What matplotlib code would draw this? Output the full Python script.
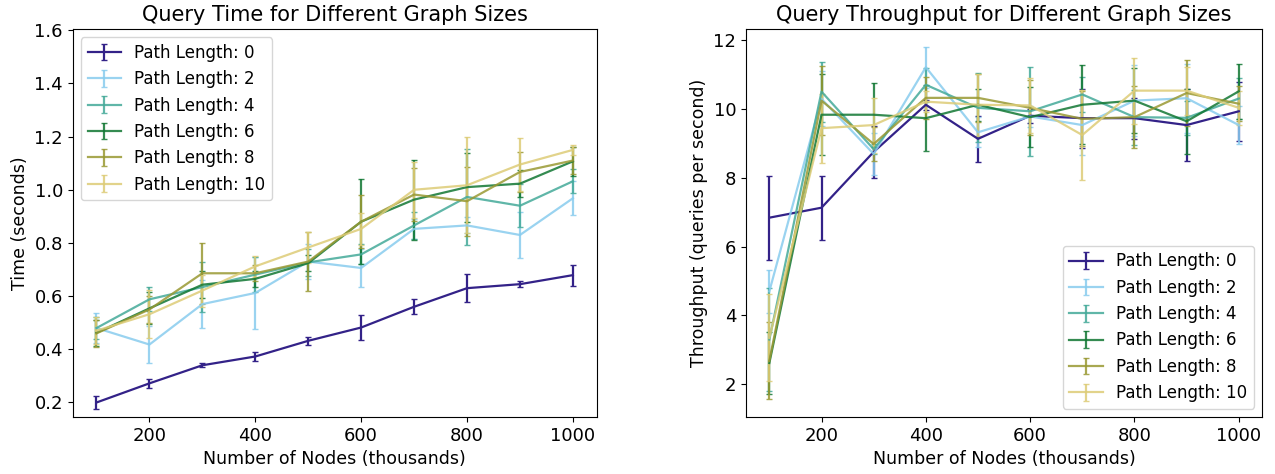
import numpy as np
import matplotlib
matplotlib.use("Agg")
from matplotlib import pyplot as plt

# Graph sizes (thousands of nodes)
nodes = [100, 200, 300, 400, 500, 600, 700, 800, 900, 1000]
path_lengths = [0, 2, 4, 6, 8, 10]
colors = ["#332288", "#88CCEE", "#44AA99", "#117733", "#999933", "#DDCC77"]

# Query time (seconds), mean and error per path length
time_0 = [0.200, 0.272, 0.340, 0.373, 0.432, 0.482, 0.560, 0.630, 0.645, 0.679]
time_2 = [0.480, 0.418, 0.570, 0.612, 0.730, 0.706, 0.853, 0.866, 0.830, 0.968]
time_4 = [0.480, 0.588, 0.634, 0.681, 0.727, 0.757, 0.866, 0.973, 0.940, 1.032]
time_6 = [0.462, 0.554, 0.643, 0.665, 0.724, 0.880, 0.963, 1.010, 1.023, 1.107]
time_8 = [0.460, 0.550, 0.686, 0.686, 0.730, 0.880, 0.982, 0.957, 1.067, 1.110]
time_10 = [0.470, 0.532, 0.621, 0.712, 0.783, 0.853, 1.000, 1.017, 1.095, 1.150]

time_err_0 = [0.025, 0.016, 0.008, 0.017, 0.014, 0.048, 0.029, 0.053, 0.012, 0.039]
time_err_2 = [0.055, 0.070, 0.090, 0.135, 0.065, 0.070, 0.038, 0.030, 0.085, 0.064]
time_err_4 = [0.040, 0.045, 0.095, 0.065, 0.050, 0.038, 0.050, 0.180, 0.080, 0.045]
time_err_6 = [0.050, 0.060, 0.050, 0.030, 0.030, 0.160, 0.150, 0.130, 0.050, 0.055]
time_err_8 = [0.050, 0.050, 0.115, 0.030, 0.110, 0.100, 0.100, 0.130, 0.075, 0.050]
time_err_10 = [0.050, 0.090, 0.060, 0.040, 0.060, 0.060, 0.105, 0.180, 0.100, 0.020]

# Throughput (queries per second), mean and error per path length
tput_0 = [6.84, 7.13, 8.75, 10.12, 9.13, 9.80, 9.73, 9.73, 9.53, 9.93]
tput_2 = [4.70, 10.29, 8.69, 11.21, 9.32, 9.78, 9.53, 10.24, 10.31, 9.53]
tput_4 = [3.30, 10.50, 8.83, 10.70, 10.03, 9.93, 10.42, 9.76, 9.74, 10.30]
tput_6 = [2.62, 9.83, 9.83, 9.73, 10.12, 9.76, 10.12, 10.24, 9.64, 10.51]
tput_8 = [2.68, 10.24, 8.98, 10.32, 10.32, 10.03, 9.71, 9.76, 10.46, 10.15]
tput_10 = [3.35, 9.44, 9.53, 10.21, 10.12, 10.10, 9.24, 10.53, 10.53, 10.03]

tput_err_0 = [1.22, 0.93, 0.75, 0.15, 0.67, 0.20, 0.86, 0.60, 1.05, 0.86]
tput_err_2 = [0.62, 0.80, 0.60, 0.60, 0.44, 0.30, 0.87, 1.04, 1.00, 0.55]
tput_err_4 = [1.50, 0.87, 0.15, 0.50, 1.00, 1.30, 0.50, 0.80, 0.50, 0.60]
tput_err_6 = [0.90, 1.17, 0.93, 0.95, 0.47, 0.87, 1.15, 0.95, 0.95, 0.80]
tput_err_8 = [1.12, 1.00, 0.50, 0.60, 0.70, 0.80, 0.80, 0.90, 0.97, 0.50]
tput_err_10 = [1.26, 1.00, 0.80, 0.30, 0.90, 0.80, 1.30, 0.96, 0.70, 0.50]

times = [time_0, time_2, time_4, time_6, time_8, time_10]
time_errs = [time_err_0, time_err_2, time_err_4, time_err_6, time_err_8, time_err_10]
tputs = [tput_0, tput_2, tput_4, tput_6, tput_8, tput_10]
tput_errs = [tput_err_0, tput_err_2, tput_err_4, tput_err_6, tput_err_8, tput_err_10]

fig = plt.figure(figsize=(12.75, 4.74), dpi=100)
ax1 = fig.add_axes([0.057, 0.120, 0.411, 0.819])
ax2 = fig.add_axes([0.585, 0.120, 0.405, 0.819])

for i, p in enumerate(path_lengths):
    a = 1.0 if p == 0 else 0.85
    ax1.errorbar(nodes, times[i], yerr=time_errs[i], color=colors[i], alpha=a,
                 capsize=2.5, linewidth=1.6, label="Path Length: %d" % p)
    ax2.errorbar(nodes, tputs[i], yerr=tput_errs[i], color=colors[i], alpha=a,
                 capsize=2.5, linewidth=1.6, label="Path Length: %d" % p)

ax1.set_ylim(0.145, 1.605)
ax1.set_title("Query Time for Different Graph Sizes", fontsize=15)
ax1.set_xlabel("Number of Nodes (thousands)", fontsize=12.5)
ax1.set_ylabel("Time (seconds)", fontsize=12.5)
ax1.legend(loc="upper left", fontsize=12)

ax2.set_title("Query Throughput for Different Graph Sizes", fontsize=15)
ax2.set_xlabel("Number of Nodes (thousands)", fontsize=12.5)
ax2.set_ylabel("Throughput (queries per second)", fontsize=12.5)
ax2.legend(loc="lower right", fontsize=12)

for ax in (ax1, ax2):
    ax.tick_params(labelsize=13)
    ax.set_xticks([200, 400, 600, 800, 1000])

fig.savefig("out.png", dpi=100)
